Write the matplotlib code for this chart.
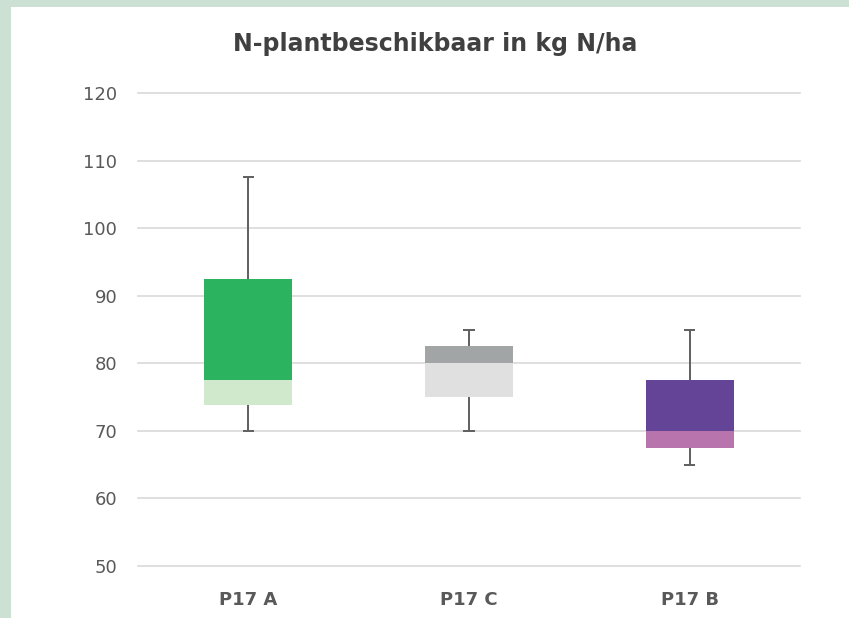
import matplotlib
matplotlib.use("Agg")
import matplotlib.pyplot as plt
from matplotlib.patches import Rectangle
from matplotlib import font_manager

categories = ["P17 A", "P17 C", "P17 B"]
mins = [70, 70, 65]
q1s = [73.8, 75, 67.5]
medians = [77.5, 80, 70]
q3s = [92.5, 82.5, 77.5]
maxs = [107.5, 85, 85]
lower_colors = ["#D0E8CC", "#E0E0E0", "#B874AD"]
upper_colors = ["#2BB35F", "#A2A5A6", "#634497"]
yticks = [50, 60, 70, 80, 90, 100, 110, 120]

names = {f.name for f in font_manager.fontManager.ttflist}
narrow = "Liberation Sans Narrow" if "Liberation Sans Narrow" in names else "DejaVu Sans"

fig = plt.figure(figsize=(8.49, 6.18), dpi=100)
fig.patch.set_facecolor("#CCE0D4")
bg = Rectangle((11/849, 0), 1 - 11/849, 1 - 7/618, transform=fig.transFigure,
               facecolor="white", edgecolor="none", zorder=-10)
fig.patches.append(bg)

ax = fig.add_axes([138/849, 1 - 566/618, 662/849, 473/618])
ax.set_zorder(5)
ax.set_facecolor("none")
x = list(range(len(categories)))
w = 0.4
lower_h = [m - q for m, q in zip(medians, q1s)]
upper_h = [q - m for q, m in zip(q3s, medians)]
ax.bar(x, lower_h, bottom=q1s, width=w, color=lower_colors, zorder=3)
ax.bar(x, upper_h, bottom=medians, width=w, color=upper_colors, zorder=3)
wc = "#5F5F5F"
ax.vlines(x, q3s, maxs, color=wc, lw=1.4, zorder=2)
ax.vlines(x, mins, q1s, color=wc, lw=1.4, zorder=2)
ax.hlines(maxs, [i - 0.025 for i in x], [i + 0.025 for i in x], color=wc, lw=1.4, zorder=2)
ax.hlines(mins, [i - 0.025 for i in x], [i + 0.025 for i in x], color=wc, lw=1.4, zorder=2)

ax.set_xlim(-0.5, 2.5)
ax.set_ylim(50, 120)
ax.set_yticks(yticks)
ax.set_xticks(x)
ax.set_xticklabels(categories, fontsize=13, fontweight="bold", color="#595959", family=narrow)
ax.tick_params(axis="y", length=0, pad=15, labelsize=13, labelcolor="#595959")
ax.tick_params(axis="x", length=0, pad=18)
ax.grid(axis="y", color="#D9D9D9", lw=1.2, zorder=0)
for gl in ax.get_ygridlines():
    gl.set_clip_on(False)
ax.set_axisbelow(True)
for s in ax.spines.values():
    s.set_visible(False)

fig.text(435/849, 1 - 44/618, "N-plantbeschikbaar in kg N/ha", ha="center", va="center",
         fontsize=17, fontweight="bold", color="#404040", family=narrow)

fig.savefig("out.png", dpi=100)
